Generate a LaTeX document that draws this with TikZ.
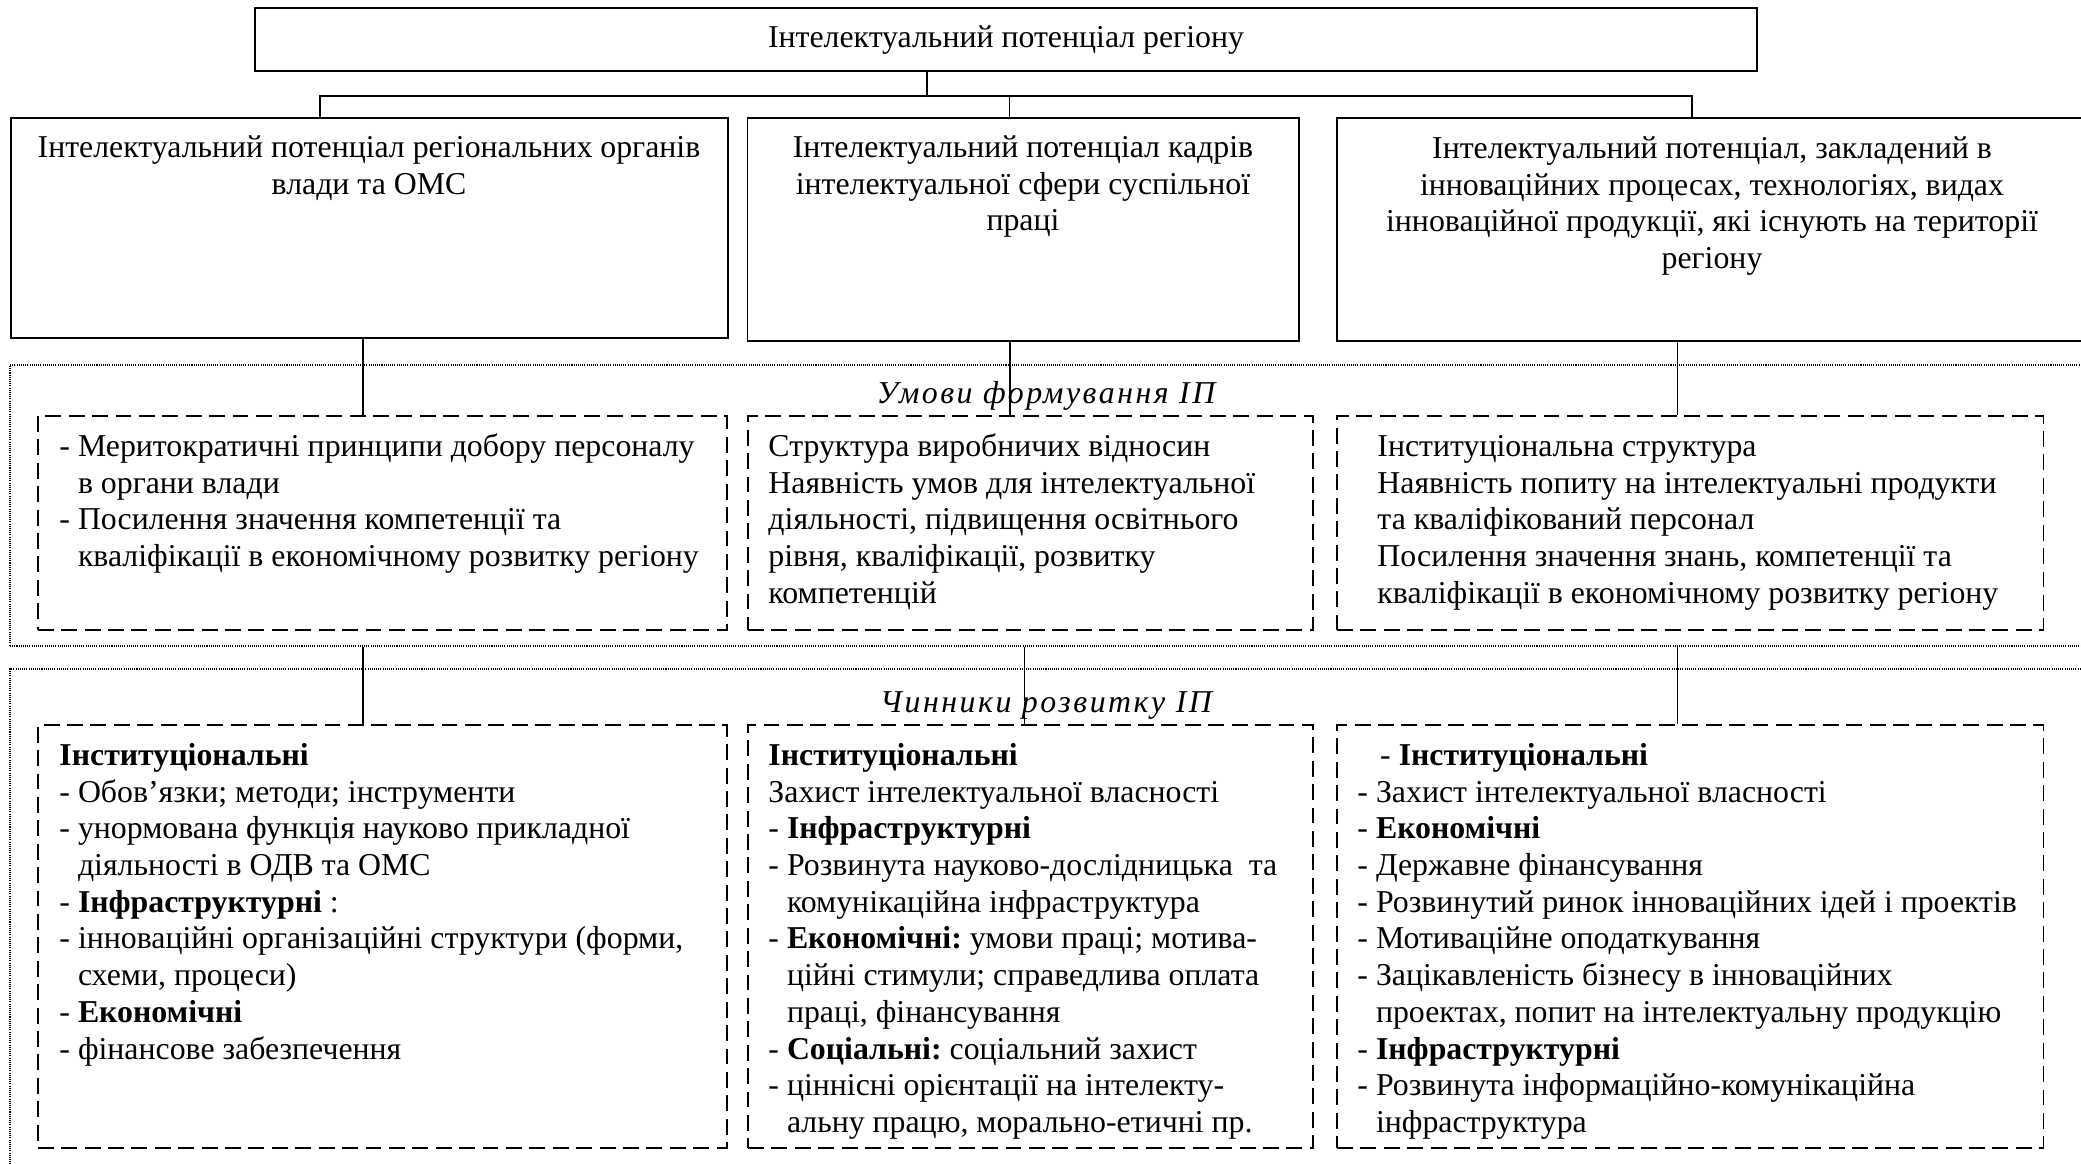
\documentclass[tikz,border=0pt]{standalone}
\usepackage{fontspec}
\setmainfont{Liberation Serif}
\newfontfamily\headfont[LetterSpace=8]{Liberation Serif}
\usepackage{tikz}
\usetikzlibrary{calc}
\usetikzlibrary{fit}
\frenchspacing

\newcommand{\dpad}{\phantom{- }}

\begin{document}
\begin{tikzpicture}[x=0.44pt,y=-0.44pt,
  every node/.style={font=\fontsize{14}{16.15}\selectfont, inner sep=0pt},
  mainbox/.style={draw, line width=0.8pt},
  condbox/.style={draw, line width=0.8pt, dash pattern=on 7pt off 3.3pt},
  zone/.style={draw, line width=0.5pt, dash pattern=on 0.45pt off 0.5pt},
  link/.style={line width=0.7pt},
  boxtext/.style={align=center, anchor=north},
  listtext/.style={align=left, anchor=north west},
  zonetitle/.style={font=\fontsize{14}{16.15}\selectfont\headfont\itshape, anchor=base}]

\useasboundingbox (0,0) rectangle (2081,1163);
\clip (0,0) rectangle (2081,1163);

\node[zone, fit={(10,365) (2095,646)}] (condzone) {};		% Umovy frame
\node[zone, fit={(10,669) (2095,1180)}] (factzone) {};		% Chynnyky frame
\node[zonetitle] (condtitle) at (1046,403) {Умови формування ІП};
\node[zonetitle] (facttitle) at (1046,712) {Чинники розвитку ІП};

\node[mainbox, fit={(255,8) (1757,71)}] (region) {};		% top box
\node[anchor=base] (regiontxt) at (1006,48) {Інтелектуальний потенціал регіону};

\node[mainbox, fit={(10.6,118) (727.6,338)}] (gov) {};
\node[mainbox, fit={(747.5,118) (1299,341)}] (staff) {};
\node[mainbox, fit={(1336.7,118) (2088,341)}] (innov) {};
\node[boxtext] (govtxt) at (369,131.3) {\strut Інтелектуальний потенціал регіональних органів\\влади та ОМС};
\node[boxtext] (stafftxt) at (1023,131.3) {\strut Інтелектуальний потенціал кадрів\\інтелектуальної сфери суспільної\\праці};
\node[boxtext] (innovtxt) at (1712,132.3) {\strut Інтелектуальний потенціал, закладений в\\інноваційних процесах, технологіях, видах\\інноваційної продукції, які існують на території\\регіону};

\node[condbox, fit={(37.8,416) (726.7,630)}] (govcond) {};	% conditions
\node[condbox, fit={(748,416) (1313,630)}] (staffcond) {};
\node[condbox, fit={(1337,416) (2043.5,630)}] (innovcond) {};
\node[listtext] (govcondtxt) at (59,430.3) {\strut - Меритократичні принципи добору персоналу\\
\dpad в органи влади\\
- Посилення значення компетенції та\\
\dpad кваліфікації в економічному розвитку регіону};
\node[listtext] (staffcondtxt) at (768,430.3) {\strut Структура виробничих відносин\\
Наявність умов для інтелектуальної\\
діяльності, підвищення освітнього\\
рівня, кваліфікації, розвитку\\
компетенцій};
\node[listtext] (innovcondtxt) at (1377,430.3) {\strut Інституціональна структура\\
Наявність попиту на інтелектуальні продукти\\
та кваліфікований персонал\\
Посилення значення знань, компетенції та\\
кваліфікації в економічному розвитку регіону};

\node[condbox, fit={(37.8,725) (726.7,1148)}] (govfact) {};	% factors
\node[condbox, fit={(748,725) (1313,1148)}] (stafffact) {};
\node[condbox, fit={(1337,725) (2043.5,1148)}] (innovfact) {};
\node[listtext] (govfacttxt) at (59,739.3) {\strut\textbf{Інституціональні}\\
- Обов’язки; методи; інструменти\\
- унормована функція науково прикладної\\
\dpad діяльності в ОДВ та ОМС\\
- \textbf{Інфраструктурні} :\\
- інноваційні організаційні структури (форми,\\
\dpad схеми, процеси)\\
- \textbf{Економічні}\\
- фінансове забезпечення};
\node[listtext] (stafffacttxt) at (768,739.3) {\strut\textbf{Інституціональні}\\
Захист інтелектуальної власності\\
- \textbf{Інфраструктурні}\\
- Розвинута науково-дослідницька\ \ та\\
\dpad комунікаційна інфраструктура\\
- \textbf{Економічні:} умови праці; мотива-\\
\dpad ційні стимули; справедлива оплата\\
\dpad праці, фінансування\\
- \textbf{Соціальні:} соціальний захист\\
- ціннісні орієнтації на інтелекту-\\
\dpad альну працю, морально-етичні пр.};
\node[listtext] (innovfacttxt) at (1357,739.3) {\strut\hspace*{10pt}- \textbf{Інституціональні}\\
- Захист інтелектуальної власності\\
- \textbf{Економічні}\\
- Державне фінансування\\
- Розвинутий ринок інноваційних ідей і проектів\\
- Мотиваційне оподаткування\\
- Зацікавленість бізнесу в інноваційних\\
\dpad проектах, попит на інтелектуальну продукцію\\
- \textbf{Інфраструктурні}\\
- Розвинута інформаційно-комунікаційна\\
\dpad інфраструктура};

\coordinate (trunk) at (927,96);		% bus under top box
\coordinate (busL) at (320,96);
\coordinate (busC) at (1009.5,96);
\coordinate (busR) at (1692,96);
\draw[link] (region.south -| trunk) -- (trunk);
\draw[link] (busL |- gov.north) -- (busL) -- (busR) -- (busR |- innov.north);
\draw[link] (busC) -- (busC |- staff.north);

\coordinate (gtap) at (363,0);			% taps down to dashed boxes
\coordinate (stap) at (1010,0);
\coordinate (stap2) at (1024.6,0);
\coordinate (itap) at (1677.5,0);
\draw[link] (gov.south -| gtap) -- (govcond.north -| gtap);
\draw[link] (staff.south -| stap) -- (staffcond.north -| stap);
\draw[link] (innov.south -| itap) -- (innovcond.north -| itap);
\draw[link] (condzone.south -| gtap) -- (govfact.north -| gtap);
\draw[link] (condzone.south -| stap2) -- (stafffact.north -| stap2);
\draw[link] (condzone.south -| itap) -- (innovfact.north -| itap);

\end{tikzpicture}
\end{document}
